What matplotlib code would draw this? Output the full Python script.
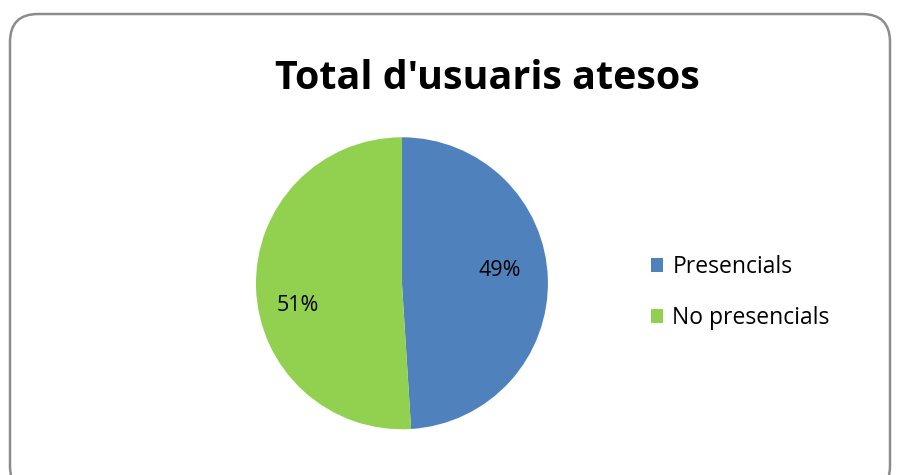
import matplotlib.pyplot as plt
from matplotlib.patches import FancyBboxPatch, Patch

plt.rcParams['font.family'] = ['Open Sans', 'DejaVu Sans']

title = "Total d'usuaris atesos"
labels = ['Presencials', 'No presencials']
values = [49, 51]
colors = ['#4F81BD', '#92D050']

fig = plt.figure(figsize=(9, 4.75), dpi=100)

# marc arrodonit, en coordenades de píxel
bg = fig.add_axes([0, 0, 1, 1])
bg.set_xlim(0, 900)
bg.set_ylim(475, 0)
bg.axis('off')
bg.add_patch(FancyBboxPatch((10, 14), 880, 480,
                            boxstyle='round,pad=0,rounding_size=28',
                            fc='white', ec='#8c8c8c', lw=1.8))

ax = fig.add_axes([0.2844, 0.0963, 0.3244, 0.6147])
wedges, texts, autotexts = ax.pie(values, colors=colors, startangle=90,
                                  counterclock=False, autopct='%1.0f%%',
                                  pctdistance=0.68,
                                  textprops={'fontsize': 15.5, 'color': 'black'})
# etiquetes com a l'original (una mica desplaçades)
autotexts[0].set_position((0.67, 0.09))
autotexts[1].set_position((-0.71, -0.15))
ax.set_xlim(-1, 1)
ax.set_ylim(-1, 1)
ax.set_aspect('equal')

fig.text(0.541, 0.835, title, ha='center', va='center',
         fontsize=28.4, fontweight='bold')

handles = [Patch(fc=c, ec='none') for c in colors]
fig.legend(handles, labels, loc='center left', bbox_to_anchor=(0.70, 0.384),
           frameon=False, fontsize=16.5, handlelength=0.55, handleheight=0.55,
           handletextpad=0.4, labelspacing=1.15)

fig.savefig('out.png', dpi=100)
